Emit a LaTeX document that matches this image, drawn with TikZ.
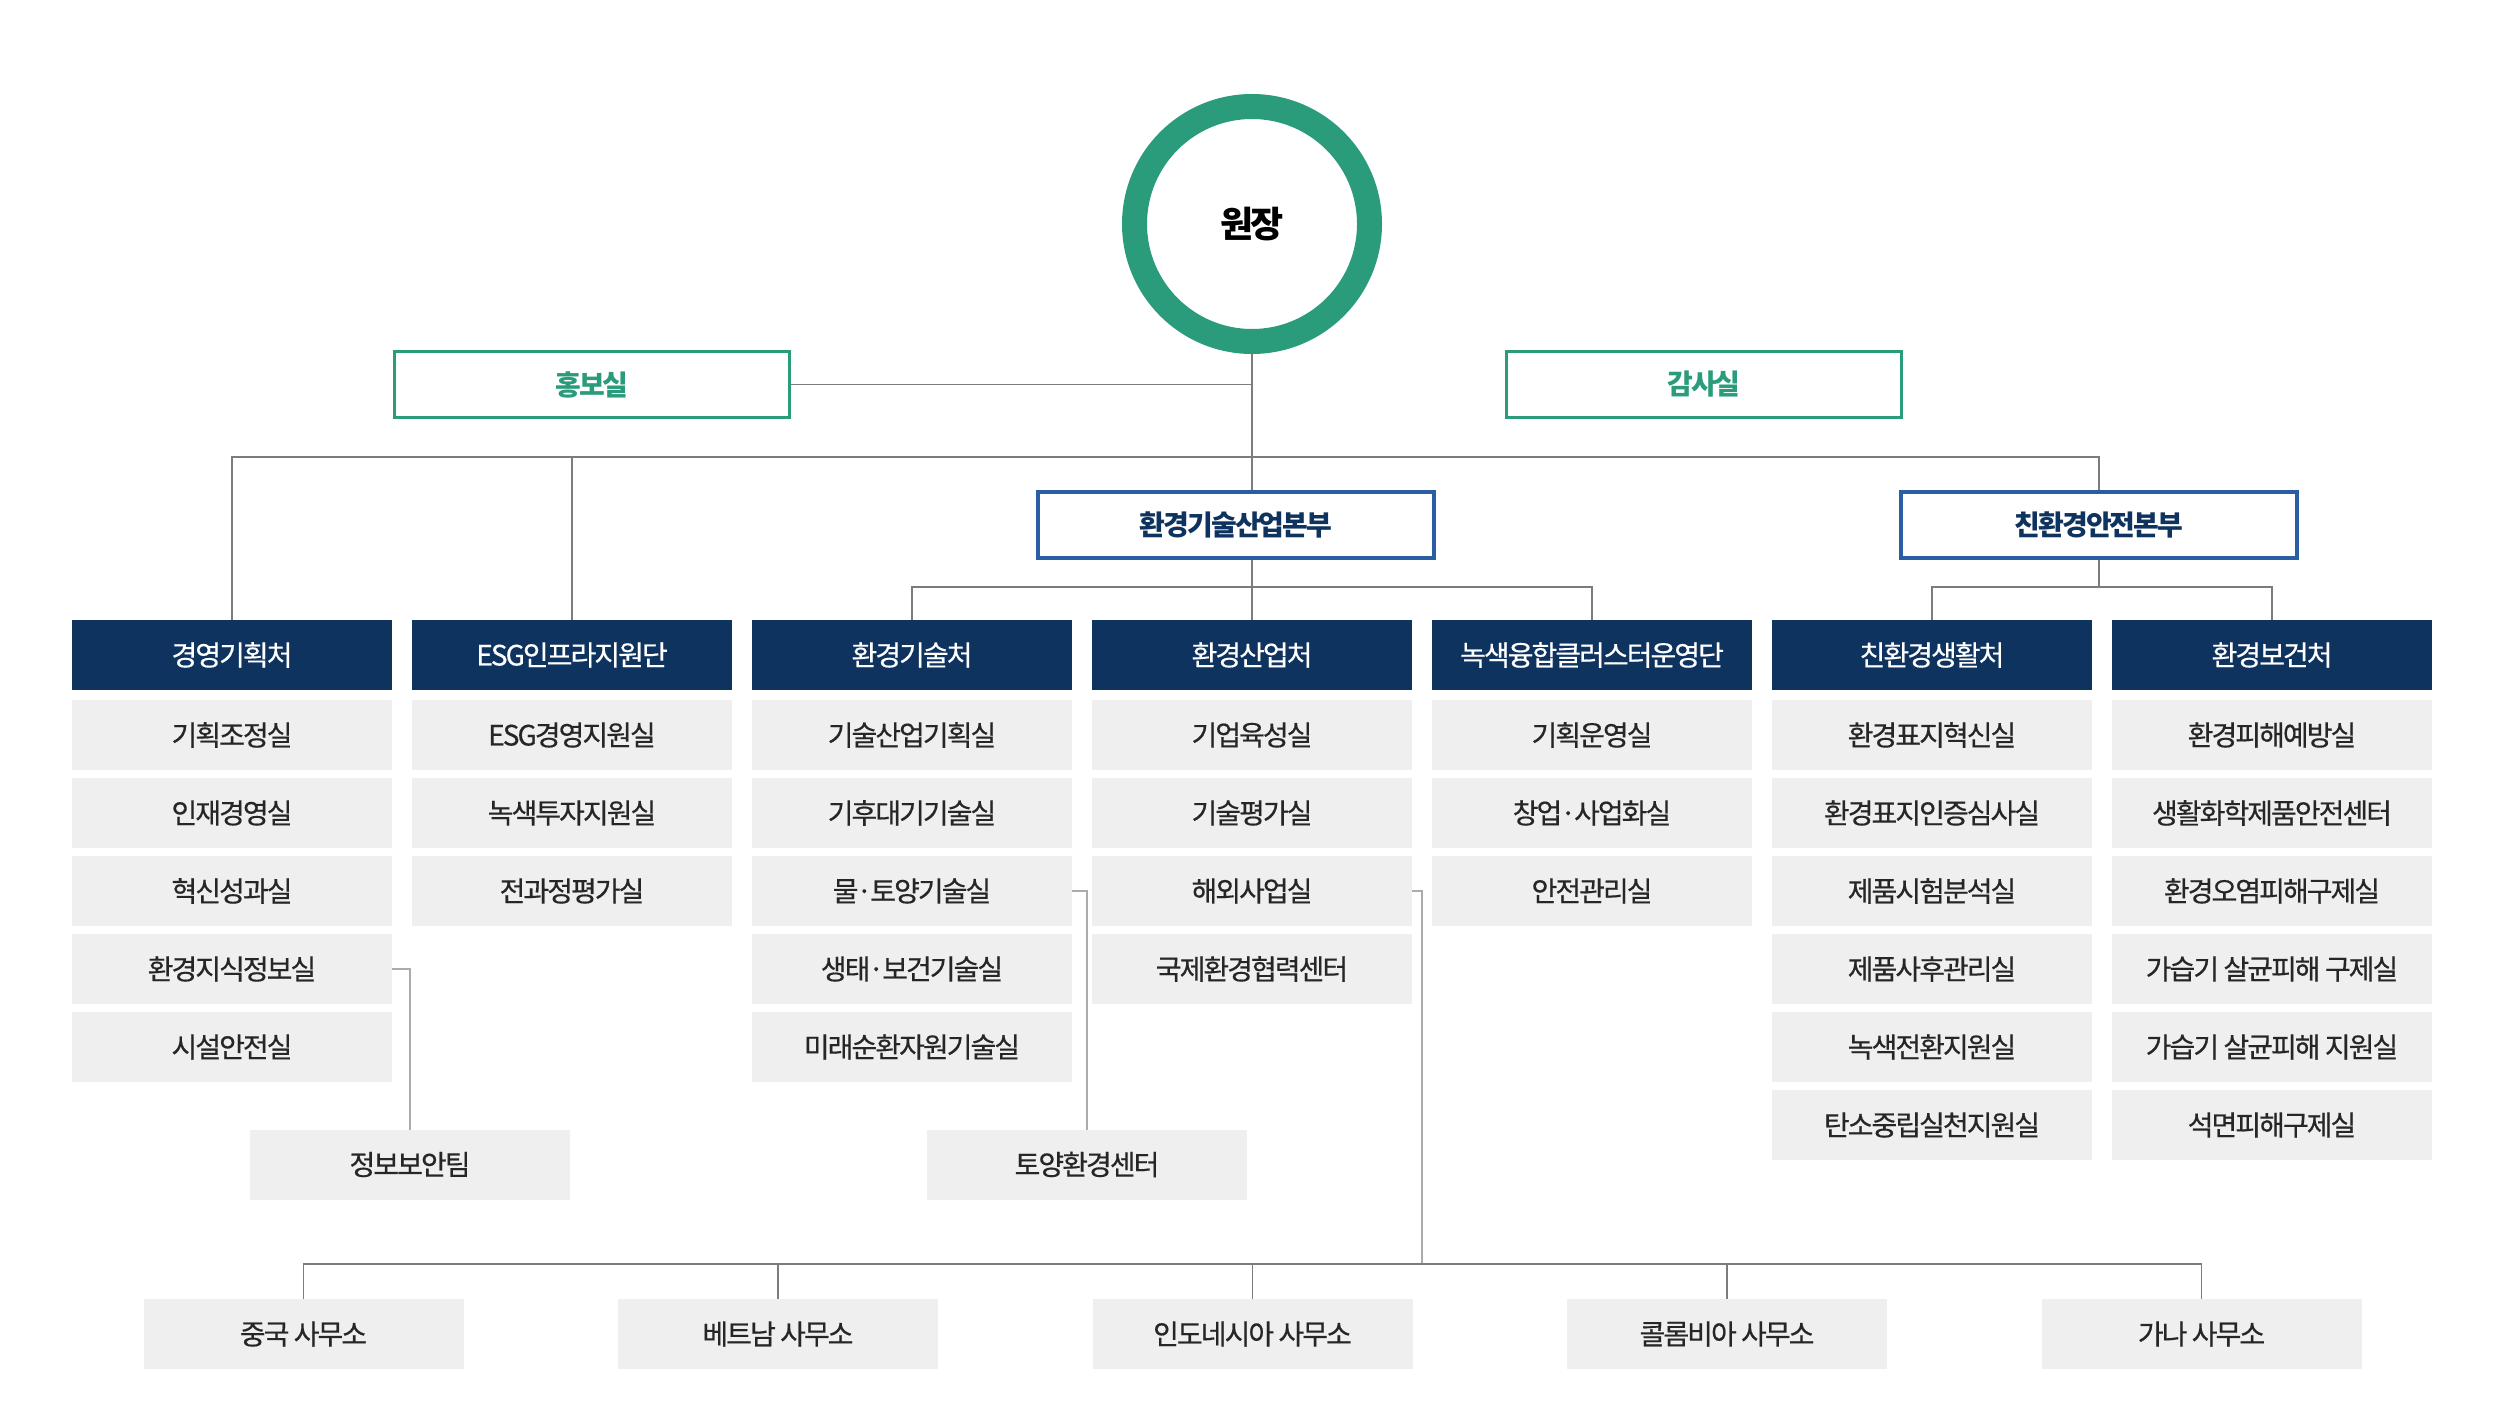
\documentclass[tikz,border=0pt]{standalone}
\usepackage{fontspec}
\setmainfont[LetterSpace=-7]{Noto Sans CJK KR}
\newfontfamily\unitFont[LetterSpace=-7,FakeBold=0.5]{Noto Sans CJK KR}
\usetikzlibrary{positioning,arrows}
\usetikzlibrary{calc}

\definecolor{chiefGreen}{HTML}{2A9B7B}
\definecolor{hqBlue}{HTML}{2A5EA2}
\definecolor{deptNavy}{HTML}{0F335F}
\definecolor{unitGray}{HTML}{EFEFEF}
\definecolor{unitText}{HTML}{262626}
\definecolor{linkGray}{HTML}{7C7C7C}
\definecolor{sideGray}{HTML}{ABABAB}

\begin{document}
\begin{tikzpicture}[x=1pt,y=-1pt]
  \newdimen\gap
  \gap=8pt
  \newdimen\colGap
  \colGap=20pt

  \tikzstyle{chief} = [
    % The shape:
    circle, minimum size=235pt, inner sep=0pt,
    % The border:
    line width=25pt,
    draw=chiefGreen,
    % Font:
    text=black,
    font=\fontsize{36}{40}\selectfont\bfseries
  ];
  \tikzstyle{staff} = [
    % The shape:
    rectangle, minimum height=66pt, minimum width=395pt,
    % The border:
    line width=3pt,
    draw=chiefGreen,
    % Font:
    text=chiefGreen,
    font=\fontsize{28}{32}\selectfont\bfseries
  ];
  \tikzstyle{headquarter} = [
    % The shape:
    rectangle, minimum height=66pt, minimum width=396pt,
    % The border:
    line width=4pt,
    draw=hqBlue,
    % Font:
    text=deptNavy,
    font=\fontsize{28}{32}\selectfont\bfseries
  ];
  \tikzstyle{division} = [
    % The shape:
    rectangle, minimum height=70pt, minimum width=320pt, outer sep=0pt,
    % The filling:
    fill=deptNavy,
    % Font:
    text=white,
    font=\unitFont\fontsize{28}{32}\selectfont
  ];
  \tikzstyle{unit} = [
    % The shape:
    rectangle, minimum height=70pt, minimum width=320pt, outer sep=0pt,
    % The filling:
    fill=unitGray,
    % Font:
    text=unitText,
    font=\unitFont\fontsize{28}{32}\selectfont
  ];
  \tikzstyle{link} = [
    draw = linkGray,
    line width = 1.3pt
  ];
  \tikzstyle{sideLink} = [
    draw = sideGray,
    line width = 2pt
  ];

  \useasboundingbox [fill=white] (0,0) rectangle (2504,1404);

  \node [chief] (chief) at (1252,224) {원장};
  \node [staff] (publicRelations) at (592,384.5) {홍보실};
  \node [staff] (audit) at (1704,384.5) {감사실};

  \node [headquarter] (envTechHQ) at (1236,525) {환경기술산업본부};
  \node [headquarter] (greenSafetyHQ) at (2099,525) {친환경안전본부};

  % Divisions
  \node [division] (mgmtPlan) at (232,655) {경영기획처};
  \node [division, right = \colGap of mgmtPlan] (esgInfra) {ESG인프라지원단};
  \node [division, right = \colGap of esgInfra] (envTech) {환경기술처};
  \node [division, right = \colGap of envTech] (envIndustry) {환경산업처};
  \node [division, right = \colGap of envIndustry] (greenCluster) {녹색융합클러스터운영단};
  \node [division, right = \colGap of greenCluster] (greenLife) {친환경생활처};
  \node [division, right = \colGap of greenLife] (envHealth) {환경보건처};

  % Units
  \node [unit, below = 10pt of mgmtPlan] (planCoord) {기획조정실};
  \node [unit, below = \gap of planCoord] (talentMgmt) {인재경영실};
  \node [unit, below = \gap of talentMgmt] (innovation) {혁신성과실};
  \node [unit, below = \gap of innovation] (envKnowledge) {환경지식정보실};
  \node [unit, below = \gap of envKnowledge] (facilitySafety) {시설안전실};

  \node [unit, below = 10pt of esgInfra] (esgMgmt) {ESG경영지원실};
  \node [unit, below = \gap of esgMgmt] (greenInvest) {녹색투자지원실};
  \node [unit, below = \gap of greenInvest] (lifeCycle) {전과정평가실};

  \node [unit, below = 10pt of envTech] (techPlan) {기술산업기획실};
  \node [unit, below = \gap of techPlan] (climateAir) {기후대기기술실};
  \node [unit, below = \gap of climateAir] (waterSoil) {물·토양기술실};
  \node [unit, below = \gap of waterSoil] (ecoHealth) {생태·보건기술실};
  \node [unit, below = \gap of ecoHealth] (circularRes) {미래순환자원기술실};

  \node [unit, below = 10pt of envIndustry] (bizGrowth) {기업육성실};
  \node [unit, below = \gap of bizGrowth] (techEval) {기술평가실};
  \node [unit, below = \gap of techEval] (overseas) {해외사업실};
  \node [unit, below = \gap of overseas] (intlCoop) {국제환경협력센터};

  \node [unit, below = 10pt of greenCluster] (clusterOps) {기획운영실};
  \node [unit, below = \gap of clusterOps] (startup) {창업·사업화실};
  \node [unit, below = \gap of startup] (safetyMgmt) {안전관리실};

  \node [unit, below = 10pt of greenLife] (labelInnov) {환경표지혁신실};
  \node [unit, below = \gap of labelInnov] (labelCert) {환경표지인증심사실};
  \node [unit, below = \gap of labelCert] (productTest) {제품시험분석실};
  \node [unit, below = \gap of productTest] (postMarket) {제품사후관리실};
  \node [unit, below = \gap of postMarket] (greenTransition) {녹색전환지원실};
  \node [unit, below = \gap of greenTransition] (carbonNeutral) {탄소중립실천지원실};

  \node [unit, below = 10pt of envHealth] (damagePrevent) {환경피해예방실};
  \node [unit, below = \gap of damagePrevent] (chemSafety) {생활화학제품안전센터};
  \node [unit, below = \gap of chemSafety] (pollutionRelief) {환경오염피해구제실};
  \node [unit, below = \gap of pollutionRelief] (humidRelief) {가습기 살균피해 구제실};
  \node [unit, below = \gap of humidRelief] (humidSupport) {가습기 살균피해 지원실};
  \node [unit, below = \gap of humidSupport] (asbestosRelief) {석면피해구제실};

  \node [unit] (infoSecurity) at (410,1164.5) {정보보안팀};
  \node [unit] (soilCenter) at (1087,1164.5) {토양환경센터};

  % Offices
  \node [unit] (china) at (303.5,1334) {중국 사무소};
  \node [unit, right = 154.5pt of china] (vietnam) {베트남 사무소};
  \node [unit, right = 154.5pt of vietnam] (indonesia) {인도네시아 사무소};
  \node [unit, right = 154.5pt of indonesia] (colombia) {콜롬비아 사무소};
  \node [unit, right = 154.5pt of colombia] (ghana) {가나 사무소};

  \coordinate (topBus) at (0,457);
  \coordinate (midBus) at (0,587);
  \coordinate (officeTurn) at (1422,1264);

  \path [link] (chief.south) to (chief.south |- envTechHQ.north);
  \path [link] (publicRelations.east) to (publicRelations.east -| chief);
  \path [link] (mgmtPlan.north) to (mgmtPlan.north |- topBus)
                                to (greenSafetyHQ.north |- topBus)
                                to (greenSafetyHQ.north);
  \path [link] (esgInfra.north) to (esgInfra.north |- topBus);

  \path [link] (chief |- envTechHQ.south) to (chief |- midBus);
  \path [link] (envTech.north) to (envTech.north |- midBus)
                               to (greenCluster.north |- midBus)
                               to (greenCluster.north);
  \path [link] (envIndustry.north) to (envIndustry.north |- midBus);

  \path [link] (greenSafetyHQ.south) to (greenSafetyHQ.south |- midBus);
  \path [link] (greenLife.north) to (greenLife.north |- midBus)
                                 to (envHealth.north |- midBus)
                                 to (envHealth.north);

  \path [sideLink] (envKnowledge.east) to (envKnowledge.east -| infoSecurity.north)
                                       to (infoSecurity.north);
  \path [sideLink] (waterSoil.east) to (waterSoil.east -| soilCenter.north)
                                    to (soilCenter.north);
  \path [sideLink] (overseas.east) to (overseas.east -| officeTurn)
                                   to (officeTurn);

  \path [link] (china.north) to (china.north |- officeTurn)
                             to (ghana.north |- officeTurn)
                             to (ghana.north);
  \path [link] (vietnam.north) to (vietnam.north |- officeTurn);
  \path [link] (indonesia.north) to (indonesia.north |- officeTurn);
  \path [link] (colombia.north) to (colombia.north |- officeTurn);
\end{tikzpicture}
\end{document}
